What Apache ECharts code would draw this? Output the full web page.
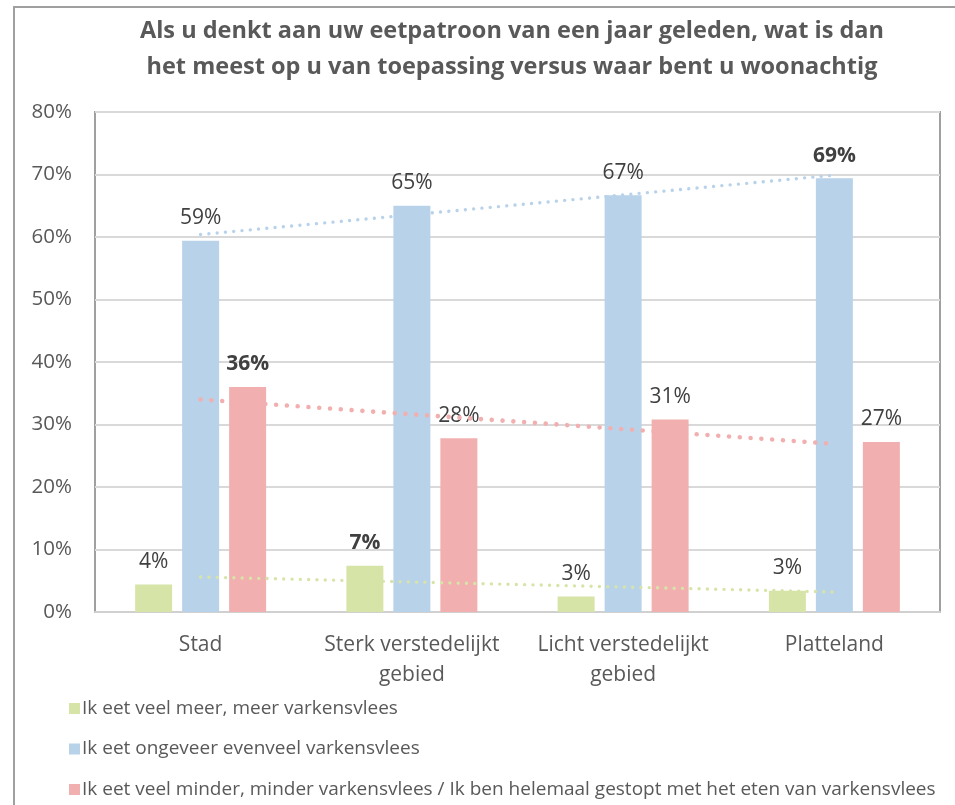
<!DOCTYPE html>
<html>
<head>
<meta charset="utf-8">
<script src="https://cdn.jsdelivr.net/npm/echarts@6/dist/echarts.min.js"></script>
<style>
html,body{margin:0;padding:0;background:#fff;}
#chart{width:955px;height:805px;}
</style>
</head>
<body>
<div id="chart"></div>
<script>
// ---- data ----
var titleLines = ['Als u denkt aan uw eetpatroon van een jaar geleden, wat is dan', 'het meest op u van toepassing versus waar bent u woonachtig'];
var categories = ['Stad', 'Sterk verstedelijkt\ngebied', 'Licht verstedelijkt\ngebied', 'Platteland'];
var seriesNames = ['Ik eet veel meer, meer varkensvlees', 'Ik eet ongeveer evenveel varkensvlees', 'Ik eet veel minder, minder varkensvlees / Ik ben helemaal gestopt met het eten van varkensvlees'];
var meer = [4.4, 7.4, 2.5, 3.4];
var evenveel = [59.4, 65.0, 66.7, 69.4];
var minder = [36.0, 27.8, 30.8, 27.2];
// trendline endpoints (first and last category)
var trendMeer = [5.6, 3.2];
var trendEvenveel = [60.4, 69.9];
var trendMinder = [34.0, 26.9];
var yTicks = [0, 10, 20, 30, 40, 50, 60, 70, 80];

var colors = ['#D7E4A8', '#B8D2EA', '#F2AFAF'];
var FONT = '"Open Sans", "Noto Sans", sans-serif';

function barSeries(name, values, color) {
  var maxV = Math.max.apply(null, values);
  return {
    name: name, type: 'bar', barWidth: 37, barGap: '27%',
    itemStyle: { color: color },
    z: 2,
    data: values.map(function (v) {
      return { value: v, label: { fontWeight: v === maxV ? 'bold' : 'normal' } };
    }),
    label: {
      show: true, position: 'top', distance: 12,
      fontFamily: FONT, fontSize: 21, color: '#404040',
      formatter: function (p) { return Math.round(p.value) + '%'; }
    }
  };
}
function trendSeries(ends, color, width, dash) {
  var d = categories.map(function () { return null; });
  d[0] = ends[0]; d[d.length - 1] = ends[1];
  return {
    type: 'line', data: d, connectNulls: true, showSymbol: false, symbol: 'none',
    silent: true, z: 3,
    lineStyle: { color: color, width: width, type: dash, cap: 'round' }
  };
}

var chart = echarts.init(document.getElementById('chart'), null, { renderer: 'canvas' });
chart.setOption({
  animation: false,
  backgroundColor: '#fff',
  graphic: [
    { type: 'rect', shape: { x: 14, y: 7, width: 1200, height: 1000 }, style: { fill: 'none', stroke: '#A0A0A0', lineWidth: 2 }, silent: true },
    { type: 'text', x: 512, y: 13, style: { text: titleLines.join('\n'), textAlign: 'center', font: 'bold 23.5px ' + FONT, fill: '#595959', lineHeight: 36 } }
  ],
  grid: { left: 95, right: 15, top: 112, bottom: 193, show: true, borderColor: '#A0A0A0', borderWidth: 2, containLabel: false },
  legend: {
    orient: 'vertical', left: 64, top: 694, itemWidth: 11, itemHeight: 11, itemGap: 21.5, icon: 'rect',
    data: seriesNames,
    textStyle: { fontFamily: FONT, fontSize: 19, color: '#595959', padding: [0, 0, 0, -3] }
  },
  xAxis: {
    type: 'category', data: categories,
    axisLine: { show: true, lineStyle: { color: '#D0D0D0', width: 2 } },
    axisTick: { show: false },
    axisLabel: { fontFamily: FONT, fontSize: 21, color: '#595959', margin: 18, lineHeight: 30, interval: 0 }
  },
  yAxis: {
    type: 'value', min: yTicks[0], max: yTicks[yTicks.length - 1], interval: 10,
    axisLine: { show: false }, axisTick: { show: false },
    splitLine: { lineStyle: { color: '#D9D9D9', width: 2 } },
    axisLabel: { fontFamily: FONT, fontSize: 20.5, color: '#595959', margin: 23, formatter: '{value}%' }
  },
  series: [
    barSeries(seriesNames[0], meer, colors[0]),
    barSeries(seriesNames[1], evenveel, colors[1]),
    barSeries(seriesNames[2], minder, colors[2]),
    trendSeries(trendMeer, colors[0], 3.4, [0.01, 8.3]),
    trendSeries(trendEvenveel, colors[1], 3.4, [0.01, 8.3]),
    trendSeries(trendMinder, colors[2], 4.6, [0.01, 10.8])
  ]
});
</script>
</body>
</html>
